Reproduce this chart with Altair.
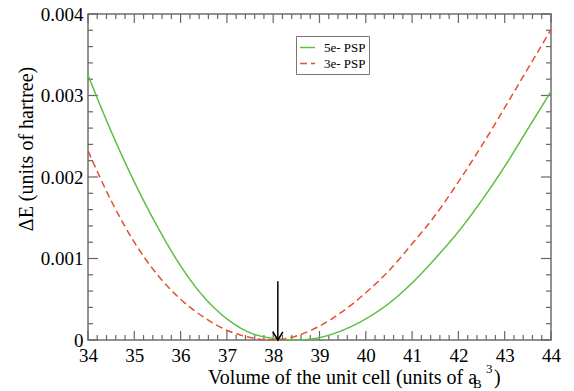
import altair as alt
import pandas as pd

# ---- data ----
volume = [34.0, 34.5, 35.0, 35.5, 36.0, 36.5, 37.0, 37.5, 38.0, 38.5, 39.0,
          39.5, 40.0, 40.5, 41.0, 41.5, 42.0, 42.5, 43.0, 43.5, 44.0]
de_5e = [0.00325, 0.00256, 0.00194, 0.00139, 0.00091, 0.00053, 0.00026, 0.00009,
         0.00002, 0.00000, 0.00003, 0.00012, 0.00026, 0.00045, 0.00070, 0.00100,
         0.00133, 0.00171, 0.00213, 0.00259, 0.00305]
de_3e = [0.00232, 0.00171, 0.00120, 0.00080, 0.00050, 0.00028, 0.00012, 0.00003,
         0.00000, 0.00005, 0.00017, 0.00035, 0.00058, 0.00085, 0.00118, 0.00153,
         0.00194, 0.00238, 0.00285, 0.00333, 0.00381]
series_names = ["5e- PSP", "3e- PSP"]
series_colors = ["#5cbf42", "#e2512e"]

arrow_volume = [38.1]
arrow_top = [0.00072]
arrow_bottom = [0.0]

x_major = [34, 35, 36, 37, 38, 39, 40, 41, 42, 43, 44]
x_minor = [round(a + f, 1) for a in x_major[:-1] for f in (0.2, 0.4, 0.6, 0.8)]
y_major = [0.0, 0.001, 0.002, 0.003, 0.004]
y_minor = [round(a + f, 5) for a in y_major[:-1] for f in (0.0002, 0.0004, 0.0006, 0.0008)]

W, H = 463, 326
FONT = "Liberation Serif"

rows = []
for v, a, b in zip(volume, de_5e, de_3e):
    rows.append({"volume": v, "dE": a, "series": series_names[0]})
    rows.append({"volume": v, "dE": b, "series": series_names[1]})
df = pd.DataFrame(rows)

xscale = alt.Scale(domain=[34, 44], nice=False, zero=False)
yscale = alt.Scale(domain=[0, 0.004], nice=False)
x_axis = alt.Axis(values=x_major, format="d", title=None, ticks=False, domain=False,
                  grid=False, labelFont=FONT, labelFontSize=19, labelColor="black",
                  labelPadding=6, labelFlush=False)
y_axis = alt.Axis(values=y_major, title=None, ticks=False, domain=False, grid=False,
                  labelExpr="datum.value == 0 ? '0' : format(datum.value, '.3f')",
                  labelFont=FONT, labelFontSize=19, labelColor="black", labelPadding=5,
                  labelFlush=False)

legend = alt.Legend(title=None, orient="none", legendX=208, legendY=22,
                    symbolType="stroke", symbolSize=225, symbolStrokeWidth=1.5,
                    labelFont=FONT, labelFontSize=13, labelColor="black",
                    strokeColor="#777777", fillColor="white", padding=3,
                    rowPadding=0, labelOffset=8)

lines = alt.Chart(df).mark_line(strokeWidth=1.5, interpolate="monotone").encode(
    x=alt.X("volume:Q", scale=xscale, axis=x_axis),
    y=alt.Y("dE:Q", scale=yscale, axis=y_axis),
    color=alt.Color("series:N", scale=alt.Scale(domain=series_names, range=series_colors),
                    legend=legend),
    strokeDash=alt.StrokeDash("series:N",
                              scale=alt.Scale(domain=series_names, range=[[1, 0], [7, 4]]),
                              legend=legend),
    order=alt.Order("volume:Q"),
)

arrow_df = pd.DataFrame({"v": arrow_volume, "top": arrow_top, "bot": arrow_bottom})
shaft = alt.Chart(arrow_df).mark_rule(color="black", strokeWidth=1.5).encode(
    x=alt.X("v:Q", scale=xscale, axis=x_axis),
    y=alt.Y("top:Q", scale=yscale, axis=y_axis),
    y2="bot:Q",
)
head = alt.Chart(arrow_df).mark_point(shape="M-1,-1.6L0,0L1,-1.6", filled=False, size=100,
                                      color="black", strokeWidth=1.5, opacity=1).encode(
    x=alt.X("v:Q", scale=xscale, axis=x_axis),
    y=alt.Y("bot:Q", scale=yscale, axis=y_axis),
)

TICK_COLOR = "#666666"
xmaj = pd.DataFrame({"v": x_major})
xmin = pd.DataFrame({"v": x_minor})
ymaj = pd.DataFrame({"v": y_major})
ymin = pd.DataFrame({"v": y_minor})

def xticks(data, length):
    base = alt.Chart(data).mark_rule(color=TICK_COLOR, strokeWidth=1.2)
    b = base.encode(x=alt.X("v:Q", scale=xscale, axis=x_axis), y=alt.value(H), y2=alt.value(H - length))
    t = base.encode(x=alt.X("v:Q", scale=xscale, axis=x_axis), y=alt.value(0), y2=alt.value(length))
    return [b, t]

def yticks(data, length):
    base = alt.Chart(data).mark_rule(color=TICK_COLOR, strokeWidth=1.2)
    l = base.encode(y=alt.Y("v:Q", scale=yscale, axis=y_axis), x=alt.value(0), x2=alt.value(length))
    r = base.encode(y=alt.Y("v:Q", scale=yscale, axis=y_axis), x=alt.value(W), x2=alt.value(W - length))
    return [l, r]

tick_layers = xticks(xmaj, 9) + xticks(xmin, 5) + yticks(ymaj, 10) + yticks(ymin, 5)

def label(text, x, y, size, angle=0, align="left", baseline="alphabetic"):
    kw = dict(text=text, font=FONT, fontSize=size, color="black", align=align, baseline=baseline)
    if angle:
        kw["angle"] = angle
    return alt.Chart(pd.DataFrame({"a": [0]})).mark_text(**kw).encode(
        x=alt.value(x), y=alt.value(y))

titles = [
    label("Volume of the unit cell (units of a", 120, 370, 20),
    label("B", 385, 374, 13),
    label("3", 398, 359, 13),
    label(")", 406, 370, 20),
    label("ΔE (units of hartree)", -61, 135, 20, angle=270, align="center", baseline="middle"),
]

chart = alt.layer(*tick_layers, lines, shaft, head, *titles).properties(
    width=W, height=H,
    autosize=alt.AutoSizeParams(type="none"),
    padding={"left": 80, "top": 6, "right": 15, "bottom": 50},
).configure(font=FONT, background="white").configure_view(stroke="#6e6e6e", strokeWidth=1.5)

chart.save("out.html", embed_options={"renderer": "svg", "actions": False})
